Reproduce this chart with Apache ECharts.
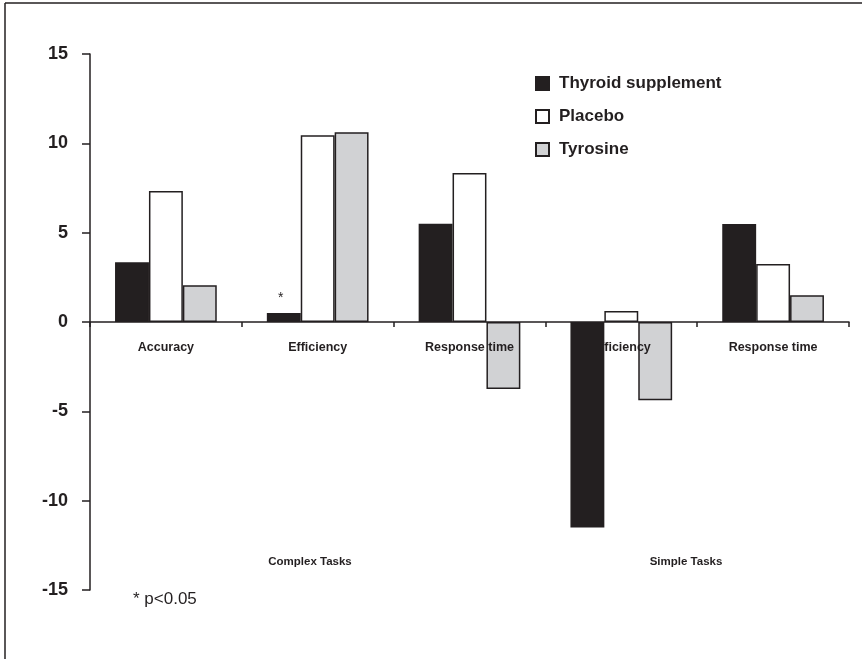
<!DOCTYPE html>
<html>
<head>
<meta charset="utf-8">
<script src="https://cdn.jsdelivr.net/npm/echarts@6/dist/echarts.min.js"></script>
<style>
  html, body { margin: 0; padding: 0; background: #fff; }
  #chart { width: 862px; height: 659px; }
</style>
</head>
<body>
<div id="chart"></div>
<script>
// categories and values
const categories = ['Accuracy', 'Efficiency', 'Response time', 'Efficiency', 'Response time'];
const thyroid = [3.35, 0.5, 5.5, -11.5, 5.48];
const placebo = [7.33, 10.45, 8.34, 0.62, 3.25];
const tyrosine = [2.05, 10.62, -3.75, -4.38, 1.5];
const yTicks = [-15, -10, -5, 0, 5, 10, 15];
const groupLabels = ['Complex Tasks', 'Simple Tasks'];

const ink = '#231f20';
const font = 'Liberation Sans, Arial, sans-serif';
const plotHeight = 659 - 54 - 69;

var myChart = echarts.init(document.getElementById('chart'));

// star on the efficiency bar (p<0.05)
let thyroidData = thyroid.map((v, i) => {
	if (i === 1) {
		return {
			value: v,
			label: { show: true, position: 'top', formatter: '*', distance: 8, offset: [-3, 0], color: ink, fontSize: 14, fontFamily: font }
		};
	}
	return v;
});

myChart.setOption({
	animation: false,
	backgroundColor: '#fff',
	grid: { left: 90, right: 13, top: 54, bottom: 69 },
	legend: {
		orient: 'vertical',
		left: 530,
		top: 70,
		itemWidth: 13,
		itemHeight: 13,
		itemGap: 16,
		icon: 'rect',
		selectedMode: false,
		textStyle: { color: ink, fontSize: 17, fontWeight: 'bold', fontFamily: font, padding: [0, 0, 0, 5] },
		data: ['Thyroid supplement', 'Placebo', 'Tyrosine']
	},
	xAxis: {
		type: 'category',
		data: categories,
		// axis sits on the zero line: bottom of grid moved up by half the plot
		offset: -plotHeight / 2,
		axisLine: { onZero: false, lineStyle: { color: ink, width: 1.5 } },
		axisTick: { show: true, length: 5, lineStyle: { color: ink, width: 1.5 } },
		axisLabel: { color: ink, fontSize: 12.5, fontWeight: 'bold', fontFamily: font, margin: 19, interval: 0 },
		splitLine: { show: false }
	},
	yAxis: {
		type: 'value',
		min: yTicks[0],
		max: yTicks[yTicks.length - 1],
		interval: 5,
		axisLine: { show: true, lineStyle: { color: ink, width: 1.5 } },
		axisTick: { show: true, length: 8, lineStyle: { color: ink, width: 1.5 } },
		axisLabel: { color: ink, fontSize: 18, fontWeight: 'bold', fontFamily: font, margin: 22 },
		splitLine: { show: false }
	},
	series: [
		{
			name: 'Thyroid supplement',
			type: 'bar',
			data: thyroidData,
			barGap: '0%',
			barCategoryGap: '33%',
			z: 3,
			itemStyle: { color: ink, borderColor: ink, borderWidth: 1.5 }
		},
		{
			name: 'Placebo',
			type: 'bar',
			data: placebo,
			z: 3,
			itemStyle: { color: '#ffffff', borderColor: ink, borderWidth: 1.5 }
		},
		{
			name: 'Tyrosine',
			type: 'bar',
			data: tyrosine,
			z: -1,
			itemStyle: { color: '#d1d2d4', borderColor: ink, borderWidth: 1.5 }
		}
	],
	graphic: [
		// frame lines at top and left of the figure
		{ type: 'line', shape: { x1: 5, y1: 3, x2: 862, y2: 3 }, style: { stroke: ink, lineWidth: 1.5 } },
		{ type: 'line', shape: { x1: 5, y1: 3, x2: 5, y2: 659 }, style: { stroke: ink, lineWidth: 1.5 } },
		{
			type: 'text', x: 310, y: 562,
			style: { text: groupLabels[0], fill: ink, font: 'bold 11.5px ' + font, align: 'center', verticalAlign: 'middle' }
		},
		{
			type: 'text', x: 686, y: 562,
			style: { text: groupLabels[1], fill: ink, font: 'bold 11.5px ' + font, align: 'center', verticalAlign: 'middle' }
		},
		{
			type: 'text', left: 133, top: 591,
			style: { text: '* p<0.05', fill: ink, font: '17px ' + font }
		}
	]
});
</script>
</body>
</html>
